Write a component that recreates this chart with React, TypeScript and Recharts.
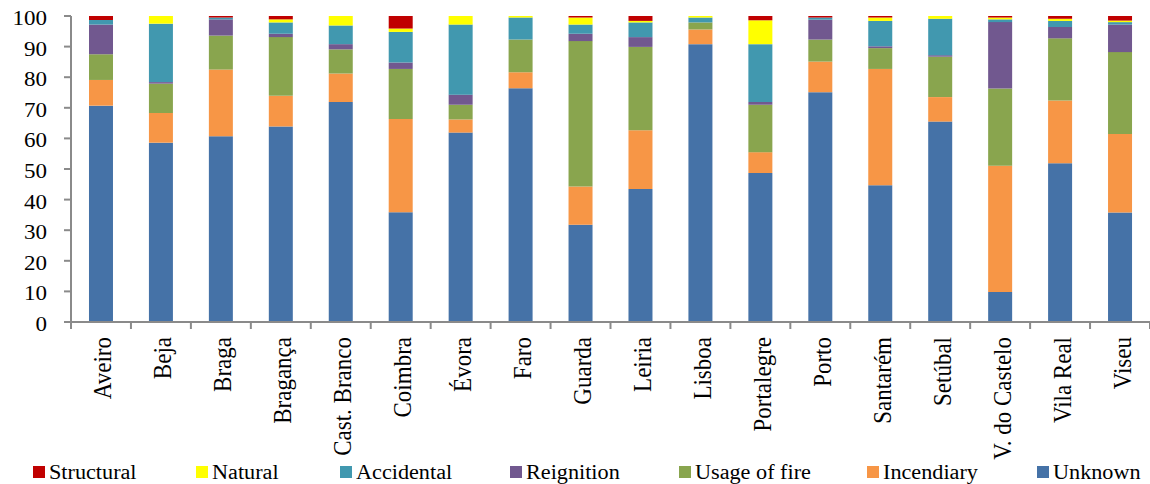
import React from 'react';
import { BarChart, Bar, XAxis, YAxis, Legend } from 'recharts';

const categories = ['Aveiro', 'Beja', 'Braga', 'Bragança', 'Cast. Branco', 'Coimbra', 'Évora', 'Faro', 'Guarda', 'Leiria', 'Lisboa', 'Portalegre', 'Porto', 'Santarém', 'Setúbal', 'V. do Castelo', 'Vila Real', 'Viseu'];

const unknown = [70.7, 58.6, 60.7, 63.9, 71.9, 35.9, 61.9, 76.4, 31.8, 43.5, 90.8, 48.7, 75.1, 44.7, 65.5, 9.8, 51.9, 35.8];
const incendiary = [8.4, 9.7, 21.8, 10.0, 9.3, 30.4, 4.3, 5.2, 12.5, 19.2, 4.8, 6.8, 10.0, 38.0, 8.0, 41.3, 20.5, 25.6];
const usageOfFire = [8.4, 9.6, 11.1, 19.2, 7.9, 16.4, 4.8, 10.7, 47.5, 27.2, 2.3, 15.5, 7.2, 6.8, 13.2, 25.2, 20.3, 26.8];
const reignition = [9.7, 0.5, 5.3, 1.1, 1.7, 2.1, 3.3, 0, 2.4, 3.2, 0, 0.9, 6.5, 0.6, 0.5, 21.7, 3.7, 9.0];
const accidental = [1.5, 19.1, 0.6, 3.7, 6.1, 10.0, 22.9, 7.2, 3.0, 4.8, 1.6, 18.9, 0.7, 8.3, 11.9, 0.9, 2.0, 0.8];
const natural = [0, 2.5, 0, 1.0, 3.1, 1.1, 2.8, 0.5, 2.3, 0.5, 0.5, 7.8, 0, 1.1, 0.9, 0.6, 0.7, 0.5];
const structural = [1.3, 0, 0.5, 1.1, 0, 4.1, 0, 0, 0.5, 1.6, 0, 1.4, 0.5, 0.5, 0, 0.5, 0.9, 1.5];

const yTicks = [0, 10, 20, 30, 40, 50, 60, 70, 80, 90, 100];

// stacking order bottom -> top
const series = [
  { key: 'unknown', name: 'Unknown', values: unknown, color: '#4572A7' },
  { key: 'incendiary', name: 'Incendiary', values: incendiary, color: '#F79646' },
  { key: 'usage', name: 'Usage of fire', values: usageOfFire, color: '#89A54E' },
  { key: 'reignition', name: 'Reignition', values: reignition, color: '#71588F' },
  { key: 'accidental', name: 'Accidental', values: accidental, color: '#4198AF' },
  { key: 'natural', name: 'Natural', values: natural, color: '#FFFF00' },
  { key: 'structural', name: 'Structural', values: structural, color: '#C00000' },
];

const data = categories.map((c, i) => {
  const row: any = { name: c };
  series.forEach((s) => {
    row[s.key] = s.values[i];
  });
  return row;
});

const FONT = 'Liberation Serif';
const AXIS = '#8a8a8a';

const XTick = (props: any) => {
  const { x, y, payload, index } = props;
  const half = payload && typeof payload.offset === 'number' && payload.offset > 0 ? payload.offset : 30;
  const axisY = y - 15;
  const isLast = index === categories.length - 1;
  return (
    <g>
      <line x1={x - half} x2={x - half} y1={axisY} y2={axisY + 7} stroke={AXIS} strokeWidth={2} />
      {isLast && <line x1={x + half} x2={x + half} y1={axisY} y2={axisY + 7} stroke={AXIS} strokeWidth={2} />}
      <text
        transform={`translate(${x + 10.5},${y}) scale(1.12,1) rotate(-90)`}
        x={0}
        y={0}
        textAnchor="end"
        fontFamily={FONT}
        fontSize={23}
        style={{ fontFamily: FONT, fontSize: '23px' }}
        fill="#000"
      >
        {payload.value}
      </text>
    </g>
  );
};

const YTick = (props: any) => {
  const { x, y, payload } = props;
  return (
    <text
      transform={`translate(${x},${y + 9}) scale(1.15,1)`}
      x={0}
      y={0}
      textAnchor="end"
      fontFamily={FONT}
      fontSize={20}
      style={{ fontFamily: FONT, fontSize: '20px' }}
      fill="#000"
    >
      {payload.value}
    </text>
  );
};

const legendOrder = [...series].reverse();

const LegendContent = () => (
  <div style={{ display: 'flex', alignItems: 'center', height: 24, paddingLeft: 33 }}>
    {legendOrder.map((s) => (
      <div key={s.key} style={{ display: 'flex', alignItems: 'center', marginRight: 68 }}>
        <div style={{ width: 12, height: 12, background: s.color, marginRight: 4 }} />
        <span
          style={{
            display: 'inline-block',
            fontFamily: FONT,
            fontSize: '20px',
            lineHeight: '20px',
            color: '#000',
            transform: 'scaleX(1.11)',
            transformOrigin: '0 50%',
            whiteSpace: 'nowrap',
          }}
        >
          {s.name}
        </span>
      </div>
    ))}
  </div>
);

export default function App() {
  return (
    <div style={{ position: 'absolute', left: 0, top: 0, width: 1150, height: 484, background: '#fff', fontFamily: FONT }}>
      <BarChart
        width={1150}
        height={484}
        data={data}
        margin={{ top: 16, right: 0, left: 0, bottom: 0 }}
        barCategoryGap="30%"
      >
        <XAxis
          dataKey="name"
          interval={0}
          height={162}
          tickSize={7}
          tickMargin={8}
          tickLine={false}
          axisLine={{ stroke: AXIS, strokeWidth: 2 }}
          tick={<XTick />}
        />
        <YAxis
          domain={[0, 100]}
          ticks={yTicks}
          interval={0}
          width={71}
          tickSize={7}
          tickMargin={17}
          tickLine={{ stroke: AXIS, strokeWidth: 2 }}
          axisLine={{ stroke: AXIS, strokeWidth: 2 }}
          tick={<YTick />}
        />
        <Legend
          layout="horizontal"
          verticalAlign="middle"
          align="center"
          wrapperStyle={{ top: 460, left: 0, width: 1150 }}
          content={<LegendContent />}
        />
        {series.map((s) => (
          <Bar key={s.key} dataKey={s.key} name={s.name} stackId="a" fill={s.color} isAnimationActive={false} />
        ))}
      </BarChart>
    </div>
  );
}
